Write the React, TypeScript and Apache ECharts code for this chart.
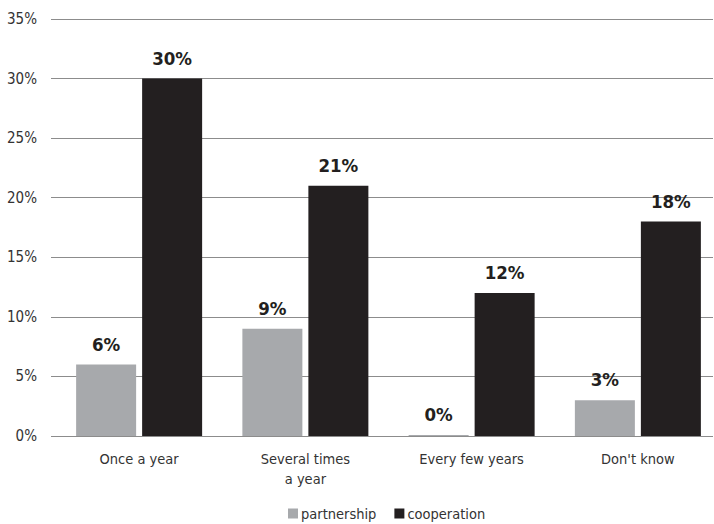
import React, { useEffect, useRef } from "react";
import * as echarts from "echarts";

const categories = ["Once a year", "Several times\na year", "Every few years", "Don't know"];
const partnership = [6, 9, 0, 3];
const cooperation = [30, 21, 12, 18];
const seriesNames = ["partnership", "cooperation"];

const FONT = "'Liberation Sans Narrow', 'Arial Narrow', 'DejaVu Sans Condensed', sans-serif";

export default function App() {
  const ref = useRef<HTMLDivElement>(null);
  useEffect(() => {
    if (!ref.current) return;
    const chart = echarts.init(ref.current, null, { renderer: "svg" });
    const label = {
      show: true,
      position: "top" as const,
      distance: 11,
      formatter: (p: any) => `${p.value}%`,
      fontFamily: FONT,
      fontWeight: "bold" as const,
      fontSize: 18.5,
      color: "#231f20",
    };
    chart.setOption({
      animation: false,
      backgroundColor: "#ffffff",
      textStyle: { fontFamily: FONT },
      grid: [
        { left: 51, right: 1, top: 19, bottom: 88, outerBoundsMode: "none" },
        { left: 56, width: 665, top: 19, bottom: 88, outerBoundsMode: "none" },
      ],
      legend: {
        top: 506,
        left: 288,
        padding: 0,
        icon: "rect",
        itemWidth: 10,
        itemHeight: 10,
        itemGap: 18,
        textStyle: { fontFamily: FONT, fontSize: 14.5, color: "#333333", padding: [0, 0, 0, -2] },
        data: seriesNames,
      },
      xAxis: [
        { type: "value", gridIndex: 0, show: false, min: 0, max: 1 },
        {
          type: "category",
          gridIndex: 1,
          data: categories,
          axisLine: { show: false },
          axisTick: { show: false },
          axisLabel: {
            fontFamily: FONT,
            fontSize: 14.5,
            color: "#333333",
            margin: 13,
            lineHeight: 20,
            interval: 0,
          },
        },
      ],
      yAxis: [
        {
          type: "value",
          gridIndex: 0,
          min: 0,
          max: 35,
          interval: 5,
          axisLine: { show: false },
          axisTick: { show: false },
          axisLabel: {
            formatter: "{value}%",
            fontFamily: FONT,
            fontSize: 15,
            color: "#333333",
            margin: 14,
          },
          splitLine: { lineStyle: { color: "#8c8c8c", width: 1 } },
        },
        { type: "value", gridIndex: 1, min: 0, max: 35, interval: 5, show: false, splitLine: { show: false } },
      ],
      series: [
        {
          name: seriesNames[0],
          type: "bar",
          xAxisIndex: 1,
          yAxisIndex: 1,
          data: partnership,
          barWidth: 60,
          barGap: "10%",
          barMinHeight: 1,
          itemStyle: { color: "#a7a9ac" },
          label,
        },
        {
          name: seriesNames[1],
          type: "bar",
          xAxisIndex: 1,
          yAxisIndex: 1,
          data: cooperation,
          barWidth: 60,
          barGap: "10%",
          itemStyle: { color: "#231f20" },
          label,
        },
      ],
    });
    return () => chart.dispose();
  }, []);
  return (
    <div
      ref={ref}
      style={{ position: "absolute", left: 0, top: 0, width: 714, height: 524 }}
    />
  );
}
